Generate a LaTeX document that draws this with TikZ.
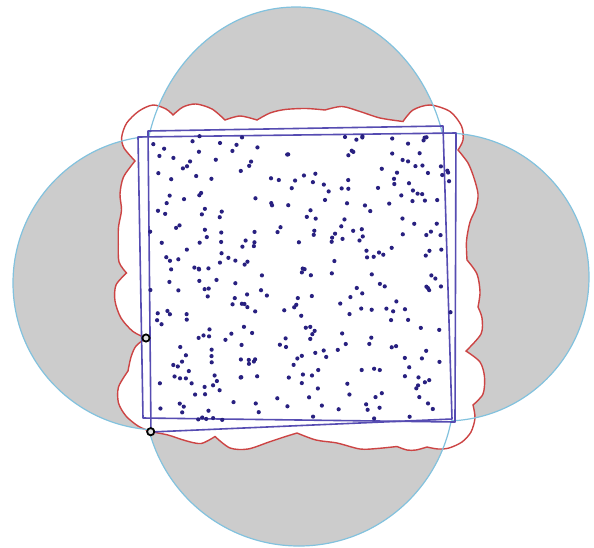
\documentclass[tikz,border=0pt]{standalone}
\definecolor{lobegray}{RGB}{204,204,204}
\definecolor{rimblue}{RGB}{130,194,222}
\definecolor{hullred}{RGB}{204,68,68}
\definecolor{boxblue}{RGB}{86,76,178}
\definecolor{dotblue}{RGB}{40,32,128}
\tikzset{
  lobe/.style={fill=lobegray},
  rim/.style={draw=rimblue, line width=0.6pt},
  hull/.style={draw=hullred, line width=0.7pt, fill=white},
  box/.style={draw=boxblue, line width=0.8pt, line join=round},
  sensor/.style={fill=dotblue},
  probe/.style={draw=black, line width=0.9pt, fill=lobegray!60}
}
\def\toplobe{(296,180) ellipse [x radius=152, y radius=173]}
\def\leftlobe{(160,283) circle (147)}
\def\rightlobe{(445,277) circle (144)}
\def\bottomlobe{(299,391) circle (155)}
\def\farbox{(-20,-20) rectangle (614,567)}
\begin{document}
\begin{tikzpicture}[x=0.5pt, y=-0.5pt]
  \useasboundingbox (0,0) rectangle (594,547);

  % The lobes
  \fill[lobe] \toplobe \leftlobe \rightlobe \bottomlobe;

  % The hull
  \filldraw[hull]
    plot[smooth] coordinates {(135,161) (124,148) (121.7,137) (126.7,123) (139,111) (153,105) (166,109) (173,115)}
    -- plot[smooth] coordinates {(173,115) (183,107) (196,104) (212,109) (225,120)}
    -- plot[smooth] coordinates {(225,120) (240,116) (257,120)}
    -- plot[smooth] coordinates {(257,120) (270,113) (285,109.5) (306,108.5) (325,110)}
    -- plot[smooth] coordinates {(325,110) (342,106.5) (360,111.5) (380,118) (403,121.5)}
    -- plot[smooth] coordinates {(403,121.5) (413,110) (430,105) (450,111.5) (461.5,126) (463,140) (458,150)}
    -- plot[smooth] coordinates {(458,150) (468,163) (474,178) (478,194) (476,208) (470,222) (466.5,241) (467,260)}
    -- plot[smooth] coordinates {(467,260) (477,274) (480,292) (478,307)}
    -- plot[smooth] coordinates {(478,307) (482,318) (481,334) (466,351)}
    -- plot[smooth] coordinates {(466,351) (480,362) (484.5,377) (483,394) (473,405)}
    -- plot[smooth] coordinates {(473,405) (475,418) (471,432) (462,442) (449,448) (438,449) (427,447)}
    -- plot[smooth] coordinates {(427,447) (416,450) (407,450) (397,446.5)}
    -- plot[smooth] coordinates {(397,446.5) (377,448.5) (360,449) (337,443) (316,440) (297,433)}
    -- plot[smooth] coordinates {(297,433) (284,437) (269,442) (248,449) (230,448) (215,436.5)}
    -- plot[smooth] coordinates {(215,436.5) (201,443.5) (185,440.5) (168,435) (150.7,431.7)}
    -- plot[smooth] coordinates {(150.7,431.7) (138,426) (126,416) (118.5,403) (118.5,387) (128,371)}
    -- plot[smooth] coordinates {(128,371) (131,357) (136,346) (146,338)}
    -- plot[smooth] coordinates {(146,338) (133,331.5) (121,318) (115,301) (116,285) (126.5,273)}
    -- plot[smooth] coordinates {(126.5,273) (119,262) (118.3,244) (118.5,227) (121.5,210) (120,194) (123.5,177) (135,161)}
    -- cycle;

  % Outer rims of the lobes
  \begin{scope}[even odd rule]
    \clip \farbox \leftlobe;
    \clip \farbox \rightlobe;
    \clip \farbox \bottomlobe;
    \draw[rim] \toplobe;
  \end{scope}
  \begin{scope}[even odd rule]
    \clip \farbox \toplobe;
    \clip \farbox \rightlobe;
    \clip \farbox \bottomlobe;
    \draw[rim] \leftlobe;
  \end{scope}
  \begin{scope}[even odd rule]
    \clip \farbox \toplobe;
    \clip \farbox \leftlobe;
    \clip \farbox \bottomlobe;
    \draw[rim] \rightlobe;
  \end{scope}
  \begin{scope}[even odd rule]
    \clip \farbox \toplobe;
    \clip \farbox \leftlobe;
    \clip \farbox \rightlobe;
    \draw[rim] \bottomlobe;
  \end{scope}

  % The two boxes
  \coordinate (a1) at (138,137);
  \coordinate (a2) at (456,133);
  \coordinate (a3) at (455,422);
  \coordinate (a4) at (143,418);
  \coordinate (b1) at (148,131);
  \coordinate (b2) at (443,126);
  \coordinate (b3) at (452,419);
  \coordinate (b4) at (151,432);
  \draw[box] (a1) -- (a2) -- (a3) -- (a4) -- cycle;
  \draw[box] (b1) -- (b2) -- (b3) -- (b4) -- cycle;

  % Sensors
  \pgfmathsetseed{4242}
  \foreach \i in {1,...,330}
    \fill[sensor] ({150+302*rnd},{136+286*rnd}) circle (2.1);

  % Probes
  \coordinate (p1) at (146,338);
  \coordinate (p2) at (150.7,431.7);
  \draw[probe] (p1) circle (3.6);
  \draw[probe] (p2) circle (3.6);
\end{tikzpicture}
\end{document}
